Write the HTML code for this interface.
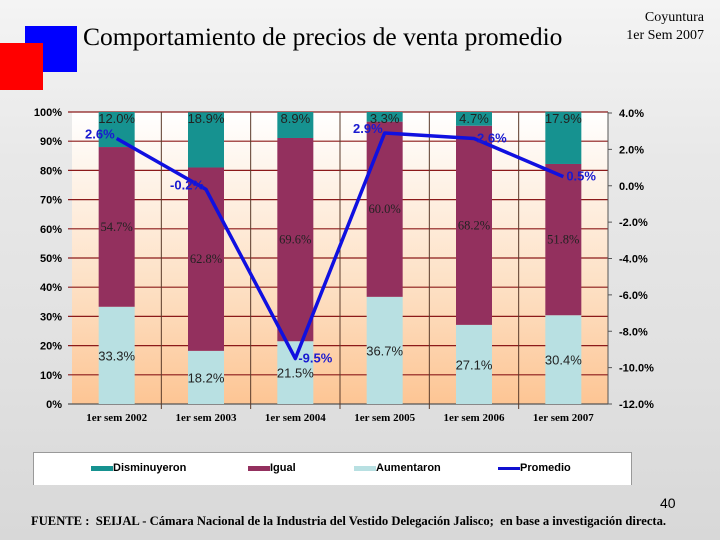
<!DOCTYPE html>
<html><head><meta charset="utf-8"><style>
html,body{margin:0;padding:0;}
body{width:720px;height:540px;overflow:hidden;position:relative;font-family:"Liberation Sans",sans-serif;
background:linear-gradient(180deg,#f4f4f4 0%,#e8e8e8 30%,#e0e0e0 70%,#d8d8d8 100%);}
.abs{position:absolute;}
</style></head><body>
<div class="abs" style="left:25px;top:26px;width:52px;height:46px;background:#0000ff"></div>
<div class="abs" style="left:0;top:43px;width:43px;height:47px;background:#ff0000"></div>
<div class="abs" style="left:83px;top:22px;font:25.5px 'Liberation Serif',serif;color:#000;white-space:nowrap">Comportamiento de precios de venta promedio</div>
<div class="abs" style="left:590px;top:9px;width:114px;text-align:right;font:14px/18px 'Liberation Serif',serif">Coyuntura<br>1er Sem 2007</div>
<svg class="abs" style="left:0;top:0" width="720" height="540" id="chart">
<defs><linearGradient id="pg" x1="0" y1="0" x2="0" y2="1"><stop offset="0" stop-color="#ffffff"/><stop offset="0.6" stop-color="#fde0c4"/><stop offset="1" stop-color="#fdc594"/></linearGradient></defs>
</svg>
<div class="abs" style="left:33px;top:452px;width:597px;height:32px;background:#fff;border-top:1px solid #999;border-left:1px solid #999;border-right:1px solid #999;font:bold 11px 'Liberation Sans',sans-serif">
<div class="abs" style="left:57px;top:9px"><span style="display:inline-block;width:22px;height:5px;background:#169290;vertical-align:middle"></span>Disminuyeron</div>
<div class="abs" style="left:214px;top:9px"><span style="display:inline-block;width:22px;height:5px;background:#93305e;vertical-align:middle"></span>Igual</div>
<div class="abs" style="left:320px;top:9px"><span style="display:inline-block;width:22px;height:5px;background:#b8e0e2;vertical-align:middle"></span>Aumentaron</div>
<div class="abs" style="left:464px;top:9px"><span style="display:inline-block;width:22px;height:3px;background:#1010d0;vertical-align:middle"></span>Promedio</div>
</div>
<div class="abs" style="left:660px;top:495px;font:14px 'Liberation Sans',sans-serif">40</div>
<div class="abs" style="left:31px;top:514px;font:bold 12.6px 'Liberation Serif',serif;white-space:nowrap">FUENTE :&nbsp; SEIJAL - Cámara Nacional de la Industria del Vestido Delegación Jalisco;&nbsp; en base a investigación directa.</div>
<script>
const categories=["1er sem 2002","1er sem 2003","1er sem 2004","1er sem 2005","1er sem 2006","1er sem 2007"];
const disminuyeron=[12.0,18.9,8.9,3.3,4.7,17.9];
const igual=[54.7,62.8,69.6,60.0,68.2,51.8];
const aumentaron=[33.3,18.2,21.5,36.7,27.1,30.4];
const promedio=[2.6,-0.2,-9.5,2.9,2.6,0.5];
const leftTicks=[0,10,20,30,40,50,60,70,80,90,100];
const rightTicks=[4,2,0,-2,-4,-6,-8,-10,-12];
const promedioAnchor=["end","end","start","end","start","start"];

const NS="http://www.w3.org/2000/svg";
const svg=document.getElementById("chart");
const X0=72,X1=608,Y0=404,Y1=112;
const bw=(X1-X0)/categories.length;
const xc=i=>X0+bw*(i+0.5);
const yL=v=>Y0-(v/100)*(Y0-Y1);
const yR=v=>Y0-((v+12)/16)*(Y0-113);
function mk(tag,attrs,parent){const e=document.createElementNS(NS,tag);for(const k in attrs)e.setAttribute(k,attrs[k]);(parent||svg).appendChild(e);return e;}

const bg=mk("rect",{x:X0,y:Y1,width:X1-X0,height:Y0-Y1,fill:"url(#pg)"});


leftTicks.forEach(t=>{
  const l=mk("line",{x1:X0-4,x2:X1,y1:yL(t),y2:yL(t),stroke:t===0?"#555":"#8b1a1a","stroke-width":1.2});
  
  
  const tx=mk("text",{x:62,y:yL(t)+4,"text-anchor":"end","font-size":11,"font-weight":"bold","font-family":"Liberation Sans, sans-serif"});
  tx.textContent=t+"%";
  
  
});
for(let i=1;i<categories.length;i++){
  const l=mk("line",{x1:X0+bw*i,x2:X0+bw*i,y1:Y1,y2:Y0+5,stroke:"#5a3a2a","stroke-width":1});
  
  
}
mk("line",{x1:X1,x2:X1,y1:Y1,y2:Y0,stroke:"#555"});
rightTicks.forEach(t=>{
  mk("line",{x1:X1,x2:X1+4,y1:yR(t),y2:yR(t),stroke:"#555"});
  const tx=mk("text",{x:619,y:yR(t)+4,"font-size":11,"font-weight":"bold","font-family":"Liberation Sans, sans-serif"});
  tx.textContent=t.toFixed(1)+"%";
  
  
});
const BW=36;
categories.forEach((c,i)=>{
  const x=xc(i)-BW/2;
  const a=aumentaron[i],g=igual[i],d=disminuyeron[i];
  const r1=mk("rect",{x:x,y:yL(a),width:BW,height:yL(0)-yL(a),fill:"#b8e0e2"});
  
  
  const r2=mk("rect",{x:x,y:yL(a+g),width:BW,height:yL(a)-yL(a+g),fill:"#93305e"});
  
  
  const r3=mk("rect",{x:x,y:yL(a+g+d),width:BW,height:yL(a+g)-yL(a+g+d),fill:"#169290"});
  
  
  const t1=mk("text",{x:xc(i),y:yL(a/2)+5,"text-anchor":"middle","font-size":13,"font-family":"Liberation Sans, sans-serif",fill:"#222"});
  t1.textContent=a.toFixed(1)+"%";
  
  
  const t2=mk("text",{x:xc(i),y:yL(a+g/2)+4,"text-anchor":"middle","font-size":12.5,"font-family":"Liberation Serif, serif",fill:"#222"});
  t2.textContent=g.toFixed(1)+"%";
  
  
  const t3=mk("text",{x:xc(i),y:Y1+11,"text-anchor":"middle","font-size":13,"font-family":"Liberation Sans, sans-serif",fill:"#222"});
  t3.textContent=d.toFixed(1)+"%";
  
  
  const xl=mk("text",{x:xc(i),y:421,"text-anchor":"middle","font-size":11,"font-weight":"bold","font-family":"Liberation Serif, serif"});
  xl.textContent=c;
  
  
});
const pl=mk("polyline",{points:promedio.map((v,i)=>xc(i)+","+yR(v)).join(" "),fill:"none",stroke:"#1010e0","stroke-width":3.5,"stroke-linejoin":"round"});


promedio.forEach((v,i)=>{
  const anc=promedioAnchor[i];
  const t=mk("text",{x:xc(i)+(anc==="end"?-2:3),y:yR(v)+(anc==="end"?0:4),"text-anchor":anc,"font-size":13,"font-weight":"bold","font-family":"Liberation Sans, sans-serif",fill:"#1a1ad0"});
  t.textContent=v.toFixed(1)+"%";
  
  
});
</script>
</body></html>
